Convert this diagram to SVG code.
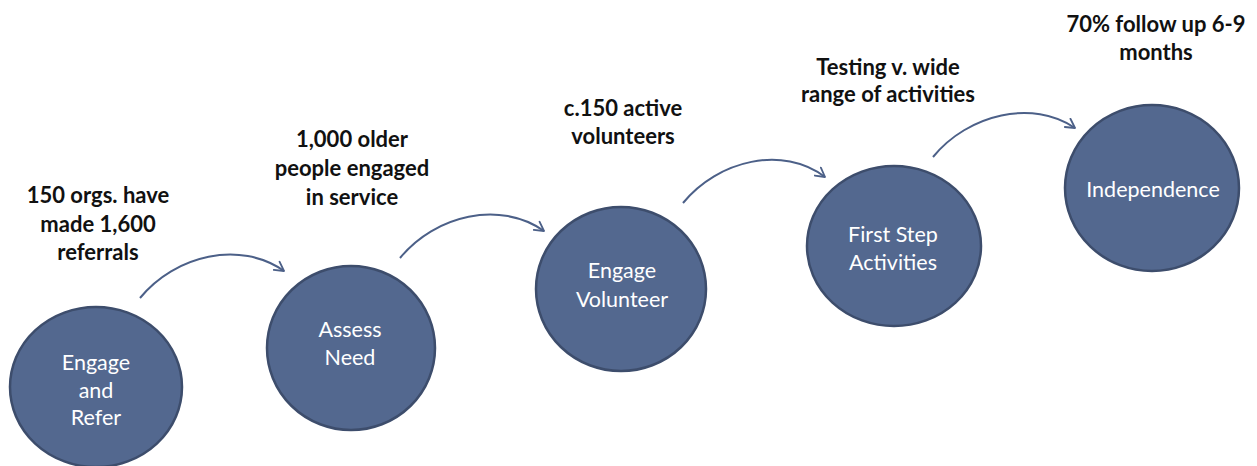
<svg xmlns="http://www.w3.org/2000/svg" width="1257" height="466" viewBox="0 0 1257 466">
  <style>
    .node { fill: #53688f; stroke: #3d4d6c; stroke-width: 2.5; }
    .ntext { font-family: Lato, "Open Sans", sans-serif; font-size: 21.5px; fill: #ffffff; text-anchor: middle; }
    .label { font-family: Lato, "Liberation Sans", sans-serif; font-weight: bold; font-size: 22px; fill: #111111; text-anchor: middle; }
    .conn { fill: none; stroke: #4c6088; stroke-width: 2; marker-end: url(#arrow); }
  </style>
  <defs>
    <marker id="arrow" viewBox="0 0 12 12" refX="10" refY="6" markerWidth="12" markerHeight="12" markerUnits="userSpaceOnUse" orient="auto">
      <path d="M1,1 L10,6 L1,11" fill="none" stroke="#4c6088" stroke-width="1.8" stroke-linecap="round" stroke-linejoin="round"/>
    </marker>
  </defs>
  <rect width="1257" height="466" fill="#ffffff"/>

  <!-- curved connectors between stages -->
  <g id="connectors">
    <path class="conn" d="M140,298 C175,255 240,240 284,271"/>
    <path class="conn" d="M400,258 C435,215 500,200 544,231"/>
    <path class="conn" d="M683,203 C718,160 783,145 825,177"/>
    <path class="conn" d="M933,157 C968,114 1033,99 1075,128"/>
  </g>

  <g id="node-engage-refer">
    <ellipse class="node" cx="96" cy="387" rx="86" ry="80"/>
    <text class="ntext" x="96" y="370">Engage</text>
    <text class="ntext" x="96" y="398">and</text>
    <text class="ntext" x="96" y="425">Refer</text>
    <text class="label" x="98" y="203">150 orgs. have</text>
    <text class="label" x="98" y="232">made 1,600</text>
    <text class="label" x="98" y="260">referrals</text>
  </g>

  <g id="node-assess-need">
    <ellipse class="node" cx="351" cy="348" rx="84" ry="82"/>
    <text class="ntext" x="350" y="337">Assess</text>
    <text class="ntext" x="350" y="365">Need</text>
    <text class="label" x="352" y="147">1,000 older</text>
    <text class="label" x="352" y="176">people engaged</text>
    <text class="label" x="352" y="205">in service</text>
  </g>

  <g id="node-engage-volunteer">
    <ellipse class="node" cx="621" cy="289" rx="85" ry="82"/>
    <text class="ntext" x="622" y="278">Engage</text>
    <text class="ntext" x="622" y="307">Volunteer</text>
    <text class="label" x="623" y="116">c.150 active</text>
    <text class="label" x="623" y="144">volunteers</text>
  </g>

  <g id="node-first-step">
    <ellipse class="node" cx="894" cy="246" rx="87" ry="80"/>
    <text class="ntext" x="893" y="242">First Step</text>
    <text class="ntext" x="893" y="270">Activities</text>
    <text class="label" x="888" y="75">Testing v. wide</text>
    <text class="label" x="888" y="102">range of activities</text>
  </g>

  <g id="node-independence">
    <ellipse class="node" cx="1152" cy="188" rx="87" ry="83"/>
    <text class="ntext" x="1153" y="197">Independence</text>
    <text class="label" x="1156" y="32">70% follow up 6-9</text>
    <text class="label" x="1156" y="60">months</text>
  </g>
</svg>
